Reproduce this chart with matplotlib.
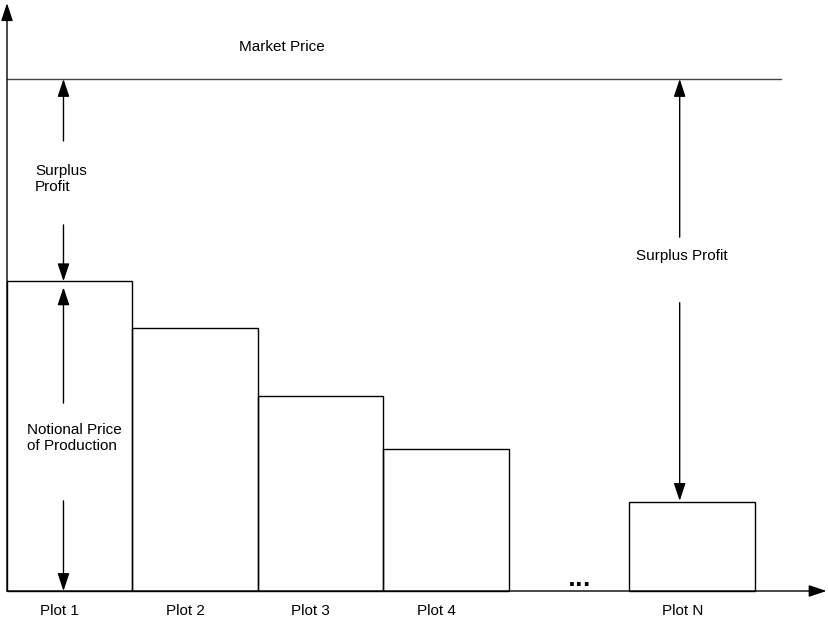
import matplotlib
matplotlib.use("Agg")
import matplotlib.pyplot as plt

# ---- data (price units, market price = 100) ----
plots = ["Plot 1", "Plot 2", "Plot 3", "Plot 4", "Plot N"]
plot_pos = [0, 1, 2, 3, 4.96]
notional_price = [60.5, 51.4, 38.1, 27.7, 17.4]
market_price = 100.0

plt.rcParams['font.family'] = ['Liberation Sans', 'DejaVu Sans']
FS = 11

fig = plt.figure(figsize=(8.29, 6.22), dpi=100)
ax = fig.add_axes([0, 0, 1, 1])
ax.axis('off')
ax.set_xlim(-7 / 125.5, 822 / 125.5)
ax.set_ylim(-31 / 5.12, 591 / 5.12)

# bars
ax.bar(plot_pos, notional_price, width=1, align='edge', fill=False,
       edgecolor='black', linewidth=1.0)

# axes arrows
astyle = '-|>,head_length=0.6,head_width=0.2'
def arrow(tail, tip):
    ax.annotate('', xy=tip, xytext=tail,
                arrowprops=dict(arrowstyle=astyle, color='black', lw=1.0,
                                mutation_scale=18, shrinkA=0, shrinkB=0))

arrow((0, 0), (0, 114.8))
arrow((0, 0), (6.53, 0))

# market price line
ax.plot([0, 6.165], [market_price, market_price], color='#444444', lw=1.0)
ax.text(2.19, 106.3, "Market Price", ha='center', va='center', fontsize=FS)

# plot 1 annotations
x1 = 0.45
arrow((x1, 87.9), (x1, market_price))
ax.text(0.225, 80.5, "Surplus\nProfit", ha='left', va='center', fontsize=FS,
        linespacing=1.2, multialignment='left')
arrow((x1, 71.5), (x1, notional_price[0]))
arrow((x1, 36.7), (x1, notional_price[0] - 1.2))
ax.text(0.16, 29.9, "Notional Price\nof Production", ha='left', va='center',
        fontsize=FS, linespacing=1.2, multialignment='left')
arrow((x1, 17.6), (x1, 0))

# plot N annotations
xn = 5.36
arrow((xn, 69.1), (xn, market_price))
ax.text(5.38, 65.4, "Surplus Profit", ha='center', va='center', fontsize=FS)
arrow((xn, 56.3), (xn, notional_price[4] + 0.2))

# ellipsis
ax.text(4.56, 1.0, "...", ha='center', va='baseline', fontsize=15,
        fontweight='bold', family='DejaVu Sans')

# labels under bars
for p, name in zip(plot_pos, plots):
    ax.text(p + 0.42, -3.9, name, ha='center', va='center', fontsize=FS)

fig.savefig("out.png", dpi=100)
